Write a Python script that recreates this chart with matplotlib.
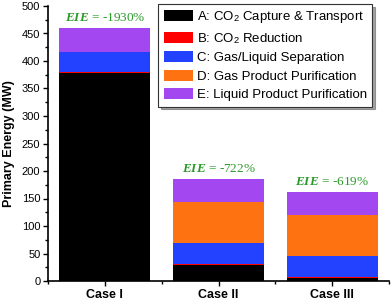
import matplotlib
matplotlib.use("Agg")
import matplotlib.pyplot as plt
from matplotlib.ticker import MultipleLocator, FixedLocator
import numpy as np

plt.rcParams['font.family'] = ['Liberation Sans', 'DejaVu Sans']
plt.rcParams['mathtext.fontset'] = 'custom'
plt.rcParams['mathtext.it'] = 'Liberation Serif:italic:bold'
plt.rcParams['mathtext.rm'] = 'Liberation Serif'

cases = ['Case I', 'Case II', 'Case III']
comp_A = [378, 29, 5]
comp_B = [2, 2, 3]
comp_C = [36, 38, 37]
comp_D = [0, 75, 75]
comp_E = [44, 41, 42]
eie_labels = ['-1930%', '-722%', '-619%']

series = [comp_A, comp_B, comp_C, comp_D, comp_E]
labels = ['A: CO$_\\mathregular{2}$ Capture & Transport',
          'B: CO$_\\mathregular{2}$ Reduction',
          'C: Gas/Liquid Separation',
          'D: Gas Product Purification',
          'E: Liquid Product Purification']
colors = ['#000000', '#ff0000', '#2342ff', '#ff7212', '#a347f0']

fig = plt.figure(figsize=(3.92, 3.03), dpi=100)
ax = fig.add_axes([48/392, 1-281/303, 341/392, 275/303])

x = np.arange(1, len(cases)+1)
bottom = np.zeros(len(cases))
for vals, lab, col in zip(series, labels, colors):
    ax.bar(x, vals, width=0.8, bottom=bottom, color=col, label=lab, linewidth=0)
    bottom += np.array(vals)

for xi, tot, e in zip(x, bottom, eie_labels):
    ax.annotate('$\\mathit{EIE}$ = ' + e, (xi, tot), xytext=(0, 3),
                textcoords='offset points', ha='center', va='bottom',
                color='#2a9a2a', fontsize=9.5, family='Liberation Serif')

ax.set_xlim(0.5, 3.5)
ax.set_ylim(0, 500)
ax.set_xticks(x)
ax.set_xticklabels(cases, fontsize=9, fontweight='bold')
ax.xaxis.set_minor_locator(FixedLocator([0.5, 1.5, 2.5, 3.5]))
ax.yaxis.set_major_locator(MultipleLocator(50))
ax.yaxis.set_minor_locator(MultipleLocator(25))
ax.tick_params(axis='y', labelsize=8, pad=2)
ax.tick_params(which='major', direction='out', length=3.5, width=1)
ax.tick_params(which='minor', direction='out', length=2, width=1)
ax.tick_params(axis='x', pad=2)
ax.set_ylabel('Primary Energy (MW)', fontsize=9, fontweight='bold', labelpad=5)
ax.spines['top'].set_visible(False)
ax.spines['right'].set_visible(False)
for s in ['left', 'bottom']:
    ax.spines[s].set_linewidth(1.2)

leg = ax.legend(loc='upper right', bbox_to_anchor=(372/392, 1-4/303),
                bbox_transform=fig.transFigure, borderaxespad=0,
                fontsize=9.5, frameon=True, fancybox=False, shadow=True,
                edgecolor='#333333', handlelength=2.2, handleheight=0.9,
                handletextpad=0.3, labelspacing=0.42, borderpad=0.4)
leg.get_frame().set_linewidth(0.8)

fig.savefig('out.png', dpi=100)
